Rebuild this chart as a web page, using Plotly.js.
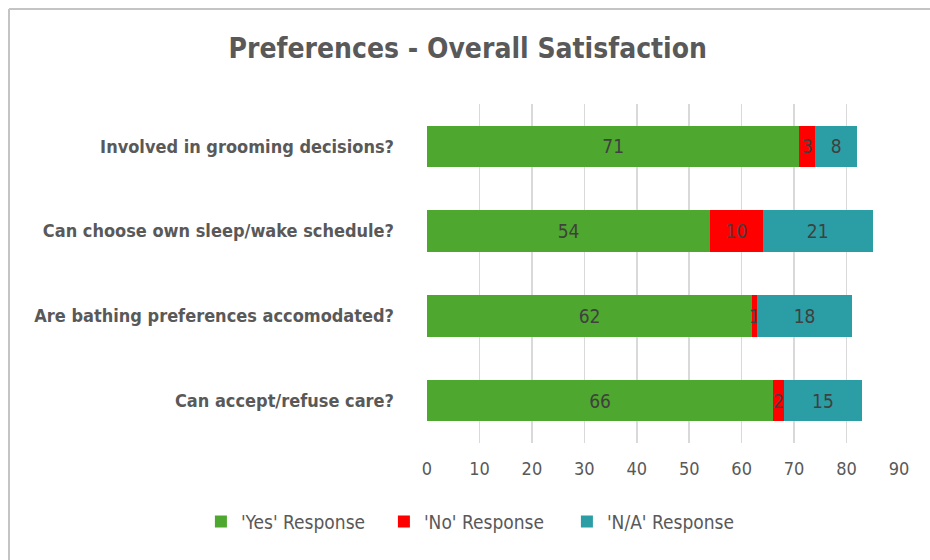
<!DOCTYPE html>
<html>
<head>
<meta charset="utf-8">
<script src="https://cdn.plot.ly/plotly-3.0.1.min.js"></script>
<style>
  html, body { margin: 0; padding: 0; background: #fff; overflow: hidden; scrollbar-width: none; }
  ::-webkit-scrollbar { display: none; width: 0; height: 0; }
  #chart { width: 930px; height: 560px; overflow: hidden; }
</style>
</head>
<body>
<div id="chart"></div>
<script>
const categories = [
  "Involved in grooming decisions?",
  "Can choose own sleep/wake schedule?",
  "Are bathing preferences accomodated?",
  "Can accept/refuse care?"
];
const yesValues = [71, 54, 62, 66];
const noValues  = [3, 10, 1, 2];
const naValues  = [8, 21, 18, 15];
const seriesNames = ["'Yes' Response", "'No' Response", "'N/A' Response"];
const xTicks = [0, 10, 20, 30, 40, 50, 60, 70, 80, 90];

const FONT = '"DejaVu Sans Condensed", "Liberation Sans Narrow", "Arial Narrow", sans-serif';
const TXT = '#595959';

const W = 930, H = 560;
const M = { l: 427, r: 31, t: 104, b: 117 };
const PW = W - M.l - M.r, PH = H - M.t - M.b;
// chart frame (left and top edges) in paper units
const fx = (9 - M.l) / PW;
const fy = 1 + (M.t - 9) / PH;

function mk(name, vals, color) {
  return {
    type: 'bar', orientation: 'h', name: name,
    y: categories, x: vals,
    marker: { color: color },
    text: vals.map(String),
    textposition: 'inside', insidetextanchor: 'middle', constraintext: 'none',
    textfont: { family: FONT, size: 19, color: '#404040' },
    hoverinfo: 'x+name'
  };
}

const data = [
  mk(seriesNames[0], yesValues, '#4ea72e'),
  mk(seriesNames[1], noValues, '#ff0000'),
  mk(seriesNames[2], naValues, '#2a9ea4')
];

const layout = {
  width: W, height: H,
  margin: M,
  paper_bgcolor: '#ffffff', plot_bgcolor: '#ffffff',
  barmode: 'stack', bargap: 0.51,
  title: { text: '<b>Preferences - Overall Satisfaction</b>', x: 0.503, xanchor: 'center', y: 0.914, yanchor: 'middle',
           font: { family: FONT, size: 28, color: TXT } },
  font: { family: FONT, color: TXT },
  xaxis: {
    range: [0, 90], tickvals: xTicks, ticktext: xTicks.map(String),
    showgrid: true, gridcolor: '#d9d9d9', gridwidth: 1.5,
    zeroline: false, showline: false, ticks: '', ticklabelstandoff: 13,
    tickfont: { family: FONT, size: 18, color: TXT }, fixedrange: true
  },
  yaxis: {
    autorange: 'reversed', showgrid: false, zeroline: false, showline: false,
    ticks: '', ticklabelstandoff: 32,
    tickfont: { family: FONT, size: 18, color: TXT }, fixedrange: true,
    tickvals: categories, ticktext: categories.map(c => '<b>' + c + '</b>')
  },
  legend: {
    orientation: 'h', x: -0.479, xanchor: 'left', y: -0.232, yanchor: 'middle',
    font: { family: FONT, size: 19, color: TXT },
    entrywidth: 138, entrywidthmode: 'pixels', traceorder: 'normal'
  },
  shapes: [
    { type: 'line', xref: 'paper', yref: 'paper', x0: fx, x1: fx, y0: -1, y1: fy,
      line: { color: '#c4c4c4', width: 2 } },
    { type: 'line', xref: 'paper', yref: 'paper', x0: fx, x1: 1.2, y0: fy, y1: fy,
      line: { color: '#c4c4c4', width: 2 } }
  ],
  showlegend: true
};

Plotly.newPlot('chart', data, layout, { displayModeBar: false, staticPlot: true });
</script>
</body>
</html>
